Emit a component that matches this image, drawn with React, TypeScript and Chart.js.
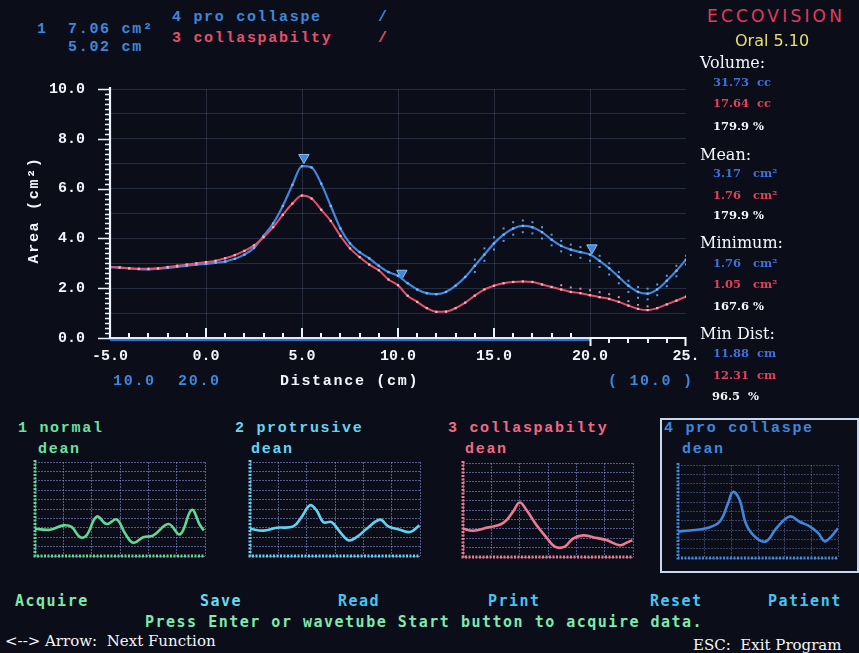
import React, { useEffect, useRef } from 'react';
import { Chart, registerables } from 'chart.js';

Chart.register(...registerables);

// ---------- main chart data ----------
const distanceCm = [
  -5, -4.5, -4, -3.5, -3, -2.5, -2, -1.5, -1, -0.5,
  0, 0.5, 1, 1.5, 2, 2.5, 3, 3.5, 4, 4.5,
  5, 5.5, 6, 6.5, 7, 7.5, 8, 8.5, 9, 9.5,
  10, 10.5, 11, 11.5, 12, 12.5, 13, 13.5, 14, 14.5,
  15, 15.5, 16, 16.5, 17, 17.5, 18, 18.5, 19, 19.5,
  20, 20.5, 21, 21.5, 22, 22.5, 23, 23.5, 24, 24.5, 25,
];
const proCollapseArea = [
  2.85, 2.83, 2.8, 2.77, 2.76, 2.78, 2.82, 2.86, 2.9, 2.95,
  2.98, 3.02, 3.07, 3.18, 3.35, 3.62, 4.1, 4.6, 5.3, 6.15,
  6.9, 6.85, 6.2, 5.3, 4.4, 3.8, 3.45, 3.2, 2.9, 2.65,
  2.5, 2.2, 1.95, 1.8, 1.76, 1.85, 2.1, 2.45, 2.9, 3.35,
  3.8, 4.15, 4.4, 4.5, 4.45, 4.25, 3.95, 3.7, 3.55, 3.45,
  3.35, 3.1, 2.8, 2.45, 2.1, 1.85, 1.78, 1.95, 2.3, 2.7, 3.15,
];
const collapsabilityArea = [
  2.85, 2.83, 2.8, 2.78, 2.78, 2.8, 2.85, 2.9, 2.95, 3.0,
  3.05, 3.1, 3.2, 3.33, 3.5, 3.72, 4.05, 4.45, 4.95, 5.4,
  5.72, 5.6, 5.15, 4.7, 4.1, 3.6, 3.25, 2.95, 2.72, 2.35,
  2.12, 1.7, 1.45, 1.2, 1.05, 1.06, 1.2, 1.42, 1.7, 1.95,
  2.1, 2.2, 2.25, 2.27, 2.25, 2.15, 2.05, 1.95, 1.85, 1.8,
  1.72, 1.64, 1.57, 1.45, 1.3, 1.17, 1.12, 1.2, 1.35, 1.5, 1.66,
];
// dotted envelope traces
const envDistance = [14, 14.5, 15, 15.5, 16, 16.5, 17, 17.5, 18, 18.5, 19, 19.5, 20, 20.5, 21, 21.5, 22, 22.5, 23, 23.5, 24, 24.5, 25];
const proUpper = [3.15, 3.6, 4.05, 4.4, 4.65, 4.72, 4.65, 4.45, 4.15, 3.9, 3.75, 3.65, 3.55, 3.3, 3.0, 2.65, 2.3, 2.05, 1.98, 2.15, 2.5, 2.9, 3.3];
const proLower = [2.65, 3.1, 3.55, 3.9, 4.15, 4.25, 4.2, 4.0, 3.72, 3.48, 3.33, 3.22, 3.1, 2.85, 2.55, 2.2, 1.85, 1.62, 1.55, 1.72, 2.08, 2.48, 2.95];
const redEnvDistance = [18.5, 19, 19.5, 20, 20.5, 21, 21.5, 22, 22.5, 23];
const collUpper = [2.12, 2.03, 1.98, 1.92, 1.84, 1.76, 1.64, 1.48, 1.33, 1.27];

const markerDistance = [5.1, 10.2, 20.1];
const markerArea = [7.25, 2.6, 3.62];

const xTickValues = [-5, 0, 5, 10, 15, 20, 25];
const xTickLabels = ['-5.0', '0.0', '5.0', '10.0', '15.0', '20.0', '25.'];
const xMinorTicks = [-5, -4, -3, -2, -1, 0, 1, 2, 3, 4, 5, 6, 7, 8, 9, 10, 11, 12, 13, 14, 15, 16, 17, 18, 19, 20, 21, 22, 23, 24, 25];

// ---------- mini chart data ----------
const normalX = [0, 0.53, 1.0, 1.29, 1.59, 1.82, 2.18, 2.53, 2.88, 3.18, 3.47, 3.82, 4.18, 4.71, 5.12, 5.53, 5.82, 5.96];
const normalY = [2.9, 2.8, 3.26, 3.1, 2.0, 2.2, 4.2, 3.4, 3.9, 2.4, 1.4, 2.0, 2.2, 3.4, 2.3, 4.9, 3.3, 2.7];
const protrusiveX = [0, 0.47, 0.94, 1.53, 1.82, 2.12, 2.35, 2.59, 2.88, 3.18, 3.47, 3.76, 4.12, 4.59, 4.88, 5.29, 5.65, 5.98];
const protrusiveY = [2.9, 2.7, 3.0, 3.15, 4.15, 5.4, 4.85, 3.6, 3.6, 2.55, 1.67, 2.0, 2.9, 3.87, 3.15, 2.8, 2.55, 3.26];
const collapsX = [0, 0.35, 0.82, 1.41, 1.76, 2.0, 2.24, 2.59, 2.94, 3.24, 3.59, 3.88, 4.24, 4.59, 5.06, 5.53, 5.76, 5.98];
const collapsY = [3.0, 2.8, 3.1, 3.6, 4.8, 5.8, 5.0, 3.4, 2.1, 1.1, 1.1, 1.96, 2.3, 2.1, 1.8, 1.25, 1.5, 1.8];
const proCollX = [0, 0.44, 1.06, 1.56, 1.88, 2.06, 2.31, 2.56, 2.94, 3.31, 3.69, 4.19, 4.56, 4.94, 5.25, 5.5, 5.69, 6.0];
const proCollY = [2.86, 2.96, 3.2, 3.9, 5.9, 7.1, 6.25, 3.6, 2.14, 1.8, 3.2, 4.46, 3.9, 3.4, 2.7, 1.8, 2.14, 3.2];

const BLUE = '#3f86dc';
const RED = '#e2506c';
const BG = '#0b0e18';
const MONO = '"Liberation Mono", "DejaVu Sans Mono", monospace';

const near = (v: number, t: number) => Math.abs(v - t) < 1e-6;

const axisDecor = {
  id: 'axisDecor',
  afterDraw(chart: any) {
    const { ctx, chartArea, scales } = chart;
    const { left, right, top, bottom } = chartArea;
    const x = scales.x;
    const y = scales.y;
    const x20 = Math.round(x.getPixelForValue(20)) + 0.5;
    const x25 = Math.round(x.getPixelForValue(25)) - 0.5;
    ctx.save();
    // x axis: blue underline, white line, white bracket 20-25
    ctx.strokeStyle = '#2f6fd0';
    ctx.lineWidth = 2;
    ctx.beginPath();
    ctx.moveTo(left, bottom + 2);
    ctx.lineTo(x20, bottom + 2);
    ctx.stroke();
    ctx.strokeStyle = '#dbe8fb';
    ctx.lineWidth = 2;
    ctx.beginPath();
    ctx.moveTo(left, bottom);
    ctx.lineTo(x20, bottom);
    ctx.stroke();
    ctx.strokeStyle = '#f4f8ff';
    ctx.beginPath();
    ctx.moveTo(x20, bottom + 8);
    ctx.lineTo(x20, bottom);
    ctx.lineTo(x25, bottom);
    ctx.lineTo(x25, bottom + 8);
    ctx.stroke();
    // y axis
    ctx.strokeStyle = '#eef4ff';
    ctx.lineWidth = 2.2;
    ctx.beginPath();
    ctx.moveTo(left, top - 2);
    ctx.lineTo(left, bottom + 1);
    ctx.stroke();
    // y ticks
    ctx.lineWidth = 1.6;
    ctx.beginPath();
    for (let i = 0; i <= 50; i++) {
      const v = i * 0.2;
      const py = Math.round(y.getPixelForValue(v)) + 0.5;
      const major = near(v, Math.round(v)) && Math.round(v) % 2 === 0;
      const len = major ? 12 : 5;
      ctx.moveTo(left - len, py);
      ctx.lineTo(left, py);
    }
    ctx.stroke();
    // x ticks
    ctx.lineWidth = 2;
    ctx.beginPath();
    xMinorTicks.forEach((v) => {
      const px = Math.round(x.getPixelForValue(v));
      const major = v % 5 === 0;
      if (v > 20 && v < 25) {
        ctx.moveTo(px, bottom);
        ctx.lineTo(px, bottom + 5);
      } else if (v < 20) {
        ctx.moveTo(px, bottom);
        ctx.lineTo(px, bottom - (major ? 10 : 5));
      }
    });
    ctx.stroke();
    ctx.restore();
  },
};

function MainChart() {
  const ref = useRef<HTMLCanvasElement>(null);
  useEffect(() => {
    const dots = (xs: number[], ys: number[], color: string) => ({
      data: xs.map((d, i) => ({ x: d, y: ys[i] })),
      showLine: false,
      pointRadius: 1.4,
      pointStyle: 'rect',
      pointBackgroundColor: color,
      pointBorderWidth: 0,
    });
    const chart = new Chart(ref.current as HTMLCanvasElement, {
      type: 'line',
      data: {
        datasets: [
          { label: 'coll upper', ...dots(redEnvDistance, collUpper, '#e88aa0') },
          {
            label: '3 collaspabilty',
            data: distanceCm.map((d, i) => ({ x: d, y: collapsabilityArea[i] })),
            borderColor: RED,
            borderWidth: 2,
            tension: 0.4,
            cubicInterpolationMode: 'monotone',
            pointRadius: 1.6,
            pointStyle: 'rect',
            pointBackgroundColor: '#f6b0c0',
            pointBorderWidth: 0,
          },
          { label: 'pro upper', ...dots(envDistance, proUpper, '#5a9ae6') },
          { label: 'pro lower', ...dots(envDistance, proLower, '#5a9ae6') },
          {
            label: '4 pro collaspe',
            data: distanceCm.map((d, i) => ({ x: d, y: proCollapseArea[i] })),
            borderColor: BLUE,
            borderWidth: 2.2,
            tension: 0.4,
            cubicInterpolationMode: 'monotone',
            pointRadius: 1.6,
            pointStyle: 'rect',
            pointBackgroundColor: '#80b6f4',
            pointBorderWidth: 0,
          },
          {
            label: 'markers',
            data: markerDistance.map((d, i) => ({ x: d, y: markerArea[i] })),
            showLine: false,
            pointStyle: 'triangle',
            rotation: 180,
            pointRadius: 6,
            pointBackgroundColor: BLUE,
            pointBorderColor: '#8ec0f8',
            pointBorderWidth: 1,
          },
        ],
      } as any,
      options: {
        responsive: false,
        animation: false,
        layout: { padding: { top: 12, right: 24, left: 0, bottom: 0 } },
        plugins: { legend: { display: false }, tooltip: { enabled: false } },
        scales: {
          x: {
            type: 'linear',
            min: -5,
            max: 25,
            afterBuildTicks: (scale: any) => {
              scale.ticks = xTickValues.map((v) => ({ value: v }));
            },
            afterFit: (scale: any) => {
              scale.height = 37;
            },
            ticks: {
              autoSkip: false,
              maxRotation: 0,
              padding: 9,
              color: '#f2f4fa',
              font: { family: MONO, size: 15, weight: 'bold' },
              callback: (v: any) => {
                const idx = xTickValues.indexOf(Number(v));
                return idx >= 0 ? xTickLabels[idx] : '';
              },
            },
            grid: {
              drawTicks: false,
              color: (c: any) => (c.tick && c.tick.value > -5 && c.tick.value < 25 ? 'rgba(110,130,170,0.26)' : 'rgba(0,0,0,0)'),
              lineWidth: 1,
            },
            border: { display: false },
          },
          y: {
            type: 'linear',
            min: 0,
            max: 10,
            afterFit: (scale: any) => {
              scale.width = 110;
            },
            ticks: {
              stepSize: 1,
              autoSkip: false,
              padding: 25,
              color: '#f2f4fa',
              font: { family: MONO, size: 15, weight: 'bold' },
              callback: (v: any) => (Number(v) % 2 === 0 ? Number(v).toFixed(1) : ''),
            },
            grid: {
              drawTicks: false,
              color: (c: any) => (c.tick && c.tick.value > 0 ? 'rgba(110,130,170,0.26)' : 'rgba(0,0,0,0)'),
              lineWidth: 1,
            },
            border: { display: false },
          },
        },
      } as any,
      plugins: [axisDecor],
    });
    return () => chart.destroy();
  }, []);
  return (
    <canvas
      ref={ref}
      width={710}
      height={320}
      style={{ position: 'absolute', left: 0, top: 55, width: 710, height: 320 }}
    />
  );
}

const miniAxes = {
  id: 'miniAxes',
  afterDraw(chart: any) {
    const { ctx, chartArea } = chart;
    const color = chart.options.plugins.miniAxes.color;
    ctx.save();
    ctx.strokeStyle = color;
    ctx.lineWidth = 3;
    ctx.setLineDash([2, 1.5]);
    ctx.beginPath();
    ctx.moveTo(chartArea.left, chartArea.top - 2);
    ctx.lineTo(chartArea.left, chartArea.bottom);
    ctx.lineTo(chartArea.right, chartArea.bottom);
    ctx.stroke();
    ctx.restore();
  },
};

type MiniProps = { xs: number[]; ys: number[]; color: string; axisColor: string; left: number; top: number; w: number; h: number; gridColor: string };

function MiniChart({ xs, ys, color, axisColor, left, top, w, h, gridColor }: MiniProps) {
  const ref = useRef<HTMLCanvasElement>(null);
  useEffect(() => {
    const chart = new Chart(ref.current as HTMLCanvasElement, {
      type: 'line',
      data: {
        datasets: [
          {
            data: xs.map((x, i) => ({ x, y: ys[i] })),
            borderColor: color,
            borderWidth: 2.6,
            tension: 0.4,
            pointRadius: 0,
          },
        ],
      } as any,
      options: {
        responsive: false,
        animation: false,
        layout: { padding: 4 },
        plugins: { legend: { display: false }, tooltip: { enabled: false }, miniAxes: { color: axisColor } },
        scales: {
          x: {
            type: 'linear',
            min: 0,
            max: 6,
            ticks: { display: false, stepSize: 1 },
            afterFit: (s: any) => {
              s.height = 0;
            },
            grid: { drawTicks: false, color: gridColor, lineWidth: 1 },
            border: { display: false, dash: [2, 1] },
          },
          y: {
            type: 'linear',
            min: 0,
            max: 10,
            ticks: { display: false, stepSize: 1 },
            afterFit: (s: any) => {
              s.width = 0;
            },
            grid: { drawTicks: false, color: gridColor, lineWidth: 1 },
            border: { display: false, dash: [2, 1] },
          },
        },
      } as any,
      plugins: [miniAxes],
    });
    return () => chart.destroy();
  }, []);
  return (
    <canvas
      ref={ref}
      width={w + 8}
      height={h + 8}
      style={{ position: 'absolute', left: left - 4, top: top - 4, width: w + 8, height: h + 8 }}
    />
  );
}

function T({ x, cy, size, color, children, style }: any) {
  return (
    <div
      style={{
        position: 'absolute',
        left: x,
        top: cy - size / 2 - 1,
        fontSize: size,
        lineHeight: `${size + 2}px`,
        color,
        whiteSpace: 'pre',
        ...style,
      }}
    >
      {children}
    </div>
  );
}

const monoStyle = { fontFamily: MONO, fontWeight: 'bold', letterSpacing: 1.7 };
const serifStyle = { fontFamily: '"DejaVu Serif", "Liberation Serif", serif' };
const valStyle = { fontFamily: '"DejaVu Serif", "Liberation Serif", serif', fontWeight: 'bold' };
const dosStyle = { fontFamily: '"DejaVu Sans Mono", monospace', fontWeight: 'bold', letterSpacing: 1.5 };

export default function App() {
  useEffect(() => {
    document.body.style.margin = '0';
    document.body.style.background = BG;
  }, []);
  const PBLUE = '#3d6fe0';
  const PRED = '#e0405a';
  const GRID = 'rgba(145,155,235,0.55)';
  return (
    <div style={{ position: 'fixed', left: 0, top: 0, width: 859, height: 653, background: BG, overflow: 'hidden' }}>
      {/* header */}
      <T x={37} cy={29} size={15} color={BLUE} style={monoStyle}>1</T>
      <T x={68} cy={29} size={15} color={BLUE} style={monoStyle}>7.06 cm²</T>
      <T x={68} cy={47} size={15} color={BLUE} style={monoStyle}>5.02 cm</T>
      <T x={172} cy={17} size={15} color={BLUE} style={monoStyle}>4 pro collaspe</T>
      <T x={378} cy={17} size={15} color={BLUE} style={monoStyle}>/</T>
      <T x={172} cy={38} size={15} color={RED} style={monoStyle}>3 collaspabilty</T>
      <T x={378} cy={38} size={15} color={RED} style={monoStyle}>/</T>

      <MainChart />

      {/* axis titles */}
      <div
        style={{
          position: 'absolute',
          left: 35 - 60,
          top: 210 - 9,
          width: 120,
          height: 18,
          lineHeight: '18px',
          textAlign: 'center',
          transform: 'rotate(-90deg)',
          color: '#f2f4fa',
          fontSize: 15,
          whiteSpace: 'pre',
          ...monoStyle,
        }}
      >
        Area (cm²)
      </div>
      <T x={280} cy={381} size={15} color="#f2f4fa" style={monoStyle}>Distance (cm)</T>
      <T x={113} cy={381} size={15} color={BLUE} style={monoStyle}>10.0</T>
      <T x={178} cy={381} size={15} color={BLUE} style={monoStyle}>20.0</T>
      <T x={608} cy={381} size={15} color={BLUE} style={monoStyle}>( 10.0 )</T>

      {/* right panel */}
      <T x={707} cy={16} size={17} color="#e23a60" style={{ fontFamily: '"DejaVu Sans", sans-serif', letterSpacing: 3.2 }}>ECCOVISION</T>
      <T x={735} cy={41} size={16} color="#e6e070" style={{ fontFamily: '"DejaVu Sans", sans-serif' }}>Oral 5.10</T>
      <T x={700} cy={63} size={16} color="#f4f6fb" style={serifStyle}>Volume:</T>
      <T x={713} cy={83} size={11.5} color={PBLUE} style={valStyle}>31.73  cc</T>
      <T x={713} cy={104} size={11.5} color={PRED} style={valStyle}>17.64  cc</T>
      <T x={713} cy={127} size={11.5} color="#f4f6fb" style={valStyle}>179.9 %</T>
      <T x={700} cy={155} size={16} color="#f4f6fb" style={serifStyle}>Mean:</T>
      <T x={713} cy={174} size={11.5} color={PBLUE} style={valStyle}>3.17   cm²</T>
      <T x={713} cy={196} size={11.5} color={PRED} style={valStyle}>1.76   cm²</T>
      <T x={713} cy={216} size={11.5} color="#f4f6fb" style={valStyle}>179.9 %</T>
      <T x={700} cy={243} size={16} color="#f4f6fb" style={serifStyle}>Minimum:</T>
      <T x={713} cy={264} size={11.5} color={PBLUE} style={valStyle}>1.76   cm²</T>
      <T x={713} cy={285} size={11.5} color={PRED} style={valStyle}>1.05   cm²</T>
      <T x={713} cy={307} size={11.5} color="#f4f6fb" style={valStyle}>167.6 %</T>
      <T x={700} cy={334} size={16} color="#f4f6fb" style={serifStyle}>Min Dist:</T>
      <T x={713} cy={354} size={11.5} color={PBLUE} style={valStyle}>11.88  cm</T>
      <T x={713} cy={376} size={11.5} color={PRED} style={valStyle}>12.31  cm</T>
      <T x={712} cy={397} size={11.5} color="#f4f6fb" style={valStyle}>96.5  %</T>

      {/* mini panels */}
      <T x={18} cy={428} size={15} color="#6ee0a0" style={monoStyle}>1 normal</T>
      <T x={38} cy={449} size={15} color="#6ee0a0" style={monoStyle}>dean</T>
      <MiniChart xs={normalX} ys={normalY} color="#62d894" axisColor="#62d894" left={35} top={462} w={170} h={94} gridColor={GRID} />

      <T x={235} cy={428} size={15} color="#66d4f4" style={monoStyle}>2 protrusive</T>
      <T x={251} cy={449} size={15} color="#66d4f4" style={monoStyle}>dean</T>
      <MiniChart xs={protrusiveX} ys={protrusiveY} color="#62d2f2" axisColor="#62d2f2" left={250} top={462} w={170} h={94} gridColor={GRID} />

      <T x={448} cy={428} size={15} color="#f06a86" style={monoStyle}>3 collaspabilty</T>
      <T x={465} cy={449} size={15} color="#f06a86" style={monoStyle}>dean</T>
      <MiniChart xs={collapsX} ys={collapsY} color="#f07a92" axisColor="#f07a92" left={463} top={463} w={170} h={94} gridColor={GRID} />

      <div style={{ position: 'absolute', left: 660, top: 418, width: 195, height: 151, border: '2px solid #c8d8f0' }} />
      <T x={664} cy={428} size={15} color={BLUE} style={monoStyle}>4 pro collaspe</T>
      <T x={682} cy={449} size={15} color={BLUE} style={monoStyle}>dean</T>
      <MiniChart xs={proCollX} ys={proCollY} color="#3f86dc" axisColor="#3f86dc" left={678} top={465} w={160} h={93} gridColor="rgba(130,140,210,0.4)" />

      {/* bottom menu */}
      <T x={15} cy={601} size={15} color="#80e8a8" style={dosStyle}>Acquire</T>
      <T x={200} cy={601} size={15} color="#6ad8f2" style={dosStyle}>Save</T>
      <T x={338} cy={601} size={15} color="#48c4f2" style={dosStyle}>Read</T>
      <T x={488} cy={601} size={15} color="#48c4f2" style={dosStyle}>Print</T>
      <T x={650} cy={601} size={15} color="#48c4f2" style={dosStyle}>Reset</T>
      <T x={768} cy={601} size={15} color="#48c4f2" style={dosStyle}>Patient</T>
      <T x={145} cy={622} size={15} color="#80e8b0" style={dosStyle}>Press Enter or wavetube Start button to acquire data.</T>
      <T x={5} cy={641} size={15} color="#f4f6fb" style={serifStyle}>{'<--> Arrow:  Next Function'}</T>
      <T x={693} cy={645} size={15} color="#f4f6fb" style={serifStyle}>ESC:  Exit Program</T>
    </div>
  );
}
